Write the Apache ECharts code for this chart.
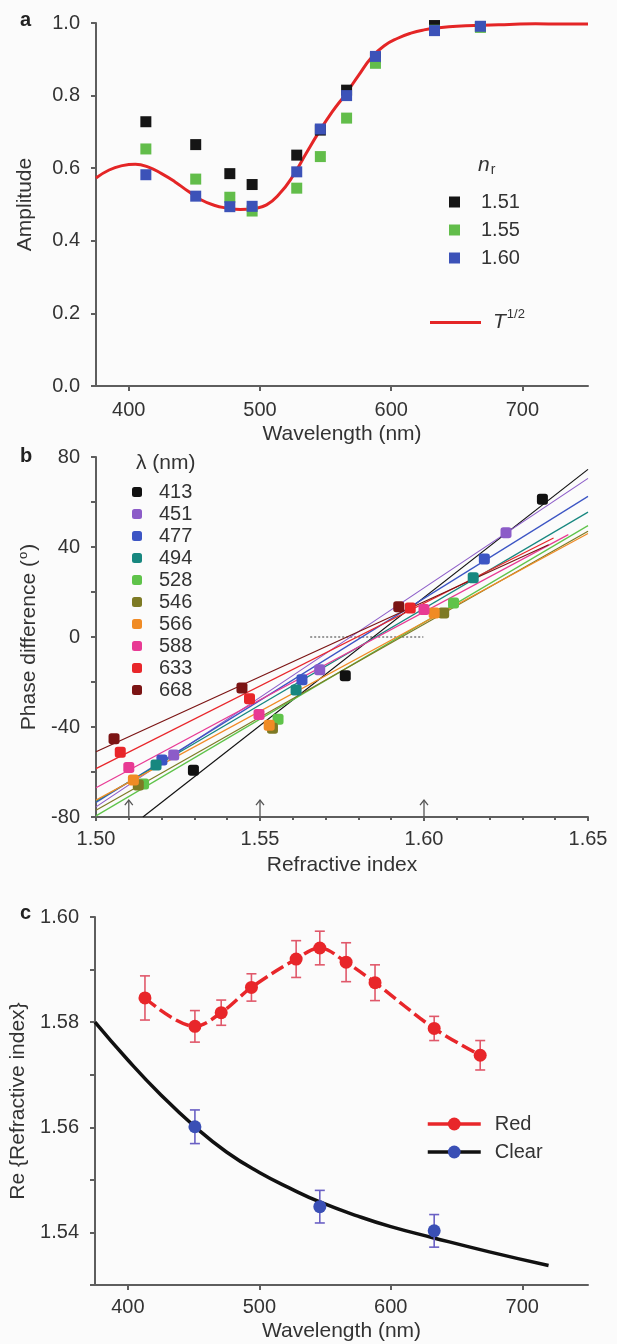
<!DOCTYPE html>
<html><head><meta charset="utf-8">
<script src="https://cdn.jsdelivr.net/npm/echarts@6/dist/echarts.min.js"></script>
<style>html,body{margin:0;padding:0;background:#fbfbfb}#c{width:617px;height:1344px}</style>
</head><body><div id="c"></div>
<script>
// ---------- Panel a : amplitude ----------
const ampWavelength = [413, 451, 477, 494, 528, 546, 566, 588, 633, 668];
const amp151 = [0.728, 0.665, 0.585, 0.555, 0.636, 0.705, 0.815, 0.905, 0.993, 0.990];
const amp155 = [0.653, 0.570, 0.520, 0.482, 0.545, 0.632, 0.738, 0.889, 0.980, 0.988];
const amp160 = [0.582, 0.523, 0.494, 0.495, 0.590, 0.708, 0.800, 0.908, 0.979, 0.991];
const curveWavelength = [375, 385, 395, 405, 415, 425, 435, 445, 455, 465, 475, 485, 495, 505, 515, 525, 535, 545, 555, 565, 575, 585, 595, 605, 615, 625, 635, 650, 670, 690, 710, 730, 750];
const curveAmp = [0.573, 0.595, 0.607, 0.611, 0.603, 0.585, 0.563, 0.537, 0.513, 0.498, 0.490, 0.486, 0.489, 0.499, 0.530, 0.578, 0.640, 0.700, 0.755, 0.803, 0.855, 0.905, 0.938, 0.958, 0.972, 0.981, 0.986, 0.991, 0.994, 0.996, 0.998, 0.997, 0.997];
const wavelengthTicks = [400, 500, 600, 700];

// ---------- Panel b : phase difference ----------
const lambdaNames = ['413', '451', '477', '494', '528', '546', '566', '588', '633', '668'];
const lambdaColors = ['#111111', '#8c5cc8', '#3c55c4', '#17877f', '#5fc34a', '#7d7a24', '#f08b25', '#e83a94', '#e8262a', '#7b1414'];
const phaseNr = [
  [1.5297, 1.5760, 1.6361],
  [1.5237, 1.5682, 1.6250],
  [1.5201, 1.5628, 1.6184],
  [1.5183, 1.5610, 1.6150],
  [1.5145, 1.5555, 1.6090],
  [1.5129, 1.5538, 1.6060],
  [1.5114, 1.5528, 1.6031],
  [1.5100, 1.5497, 1.6000],
  [1.5074, 1.5468, 1.5958],
  [1.5055, 1.5445, 1.5923]
];
const phaseDeg = [
  [-59.2, -17.2, 61.2],
  [-52.4, -14.6, 46.3],
  [-54.7, -19.0, 34.7],
  [-56.9, -23.5, 26.3],
  [-65.3, -36.5, 15.1],
  [-65.8, -40.5, 10.7],
  [-63.6, -39.2, 10.7],
  [-58.0, -34.4, 12.2],
  [-51.2, -27.4, 12.9],
  [-45.2, -22.7, 13.5]
];
const fitStart = [[1.5143, -80], [1.50, -75.5], [1.50, -73.5], [1.50, -73], [1.50, -79.5], [1.50, -77], [1.50, -72.5], [1.50, -67], [1.50, -58.5], [1.50, -51]];
const fitEnd = [[1.65, 74.5], [1.65, 70.5], [1.65, 62.5], [1.65, 55.5], [1.65, 49.5], [1.65, 47], [1.65, 46], [1.644, 45.5], [1.6395, 44], [1.638, 41]];
const zeroRefNr = [1.5653, 1.5998];
const arrowNr = [1.51, 1.55, 1.60];
const arrowFrom = -80, arrowTo = -72.5;

// ---------- Panel c : refractive index ----------
const redWavelength = [413, 451, 471, 494, 528, 546, 566, 588, 633, 668];
const redIndex = [1.5846, 1.5792, 1.5818, 1.5866, 1.5920, 1.5941, 1.5914, 1.5875, 1.5788, 1.5737];
const redErr = [0.0042, 0.0030, 0.0024, 0.0026, 0.0035, 0.0032, 0.0037, 0.0034, 0.0023, 0.0028];
const clearWavelength = [451, 546, 633];
const clearIndex = [1.5601, 1.5449, 1.5403];
const clearErr = [0.0032, 0.0031, 0.0031];
const clearFitWavelength = [375, 400, 425, 451, 475, 500, 525, 546, 575, 600, 632, 675, 720];
const clearFitIndex = [1.5800, 1.5728, 1.5662, 1.5601, 1.5553, 1.5514, 1.5482, 1.5458, 1.5431, 1.5411, 1.5390, 1.5363, 1.5337];
const indexTicks = [1.53, 1.54, 1.55, 1.56, 1.57, 1.58, 1.59, 1.60];
const indexLabels = [1.54, 1.56, 1.58, 1.60];

// ---------- styles ----------
const FONT = 'Liberation Sans, Arial, Helvetica, sans-serif';
const TXT = '#333';
const AX = '#5e5e5e';
const axisLine = { show: true, onZero: false, lineStyle: { color: AX, width: 2 } };

function errRender(params, api) {
  const x = api.value(0), y = api.value(1), e = api.value(2);
  const t = api.coord([x, y + e]), b = api.coord([x, y - e]);
  const hw = 5, st = { stroke: api.visual('color'), lineWidth: 1.6 };
  return { type: 'group', children: [
    { type: 'line', shape: { x1: t[0], y1: t[1], x2: b[0], y2: b[1] }, style: st },
    { type: 'line', shape: { x1: t[0] - hw, y1: t[1], x2: t[0] + hw, y2: t[1] }, style: st },
    { type: 'line', shape: { x1: b[0] - hw, y1: b[1], x2: b[0] + hw, y2: b[1] }, style: st }
  ] };
}
function arrowRender(params, api) {
  const x = api.value(0);
  const p0 = api.coord([x, api.value(1)]), p1 = api.coord([x, api.value(2)]);
  const st = { stroke: '#555', lineWidth: 1.3, fill: 'none' };
  return { type: 'group', children: [
    { type: 'line', shape: { x1: p0[0], y1: p0[1], x2: p1[0], y2: p1[1] }, style: st },
    { type: 'polyline', shape: { points: [[p1[0] - 4, p1[1] + 5], [p1[0], p1[1]], [p1[0] + 4, p1[1] + 5]] }, style: st }
  ] };
}

const series = [];
// panel a
series.push({ type: 'line', name: 'T1/2', xAxisIndex: 0, yAxisIndex: 0, smooth: true, symbol: 'none',
  data: curveWavelength.map((w, i) => [w, curveAmp[i]]), lineStyle: { color: '#e42526', width: 3 }, itemStyle: { color: '#e42526' }, z: 2 });
[[amp151, '1.51', '#151515'], [amp155, '1.55', '#62bd4a'], [amp160, '1.60', '#3c52b8']].forEach(([arr, nm, col]) => {
  series.push({ type: 'scatter', name: nm, xAxisIndex: 0, yAxisIndex: 0, symbol: 'rect', symbolSize: 11,
    data: ampWavelength.map((w, i) => [w, arr[i]]), itemStyle: { color: col, opacity: 1 }, z: 3 });
});
// panel b
lambdaNames.forEach((nm, k) => {
  series.push({ type: 'scatter', name: nm, xAxisIndex: 1, yAxisIndex: 1, symbol: 'roundRect', symbolSize: 11,
    data: phaseNr[k].map((x, i) => [x, phaseDeg[k][i]]), itemStyle: { color: lambdaColors[k], opacity: 1 }, z: 4 });
});
lambdaNames.forEach((nm, k) => {
  series.push({ type: 'line', name: nm, xAxisIndex: 1, yAxisIndex: 1, symbol: 'none',
    data: [fitStart[k], fitEnd[k]], lineStyle: { color: lambdaColors[k], width: 1.2 }, itemStyle: { color: lambdaColors[k] }, z: 3 });
});
series.push({ type: 'line', name: 'zeroRef', xAxisIndex: 1, yAxisIndex: 1, symbol: 'none',
  data: zeroRefNr.map(x => [x, 0]), lineStyle: { color: '#9a9a9a', width: 2, type: [2, 2] }, z: 2 });
series.push({ type: 'custom', name: 'arrows', xAxisIndex: 1, yAxisIndex: 1, renderItem: arrowRender,
  data: arrowNr.map(x => [x, arrowFrom, arrowTo]), encode: { x: 0, y: [1, 2] }, z: 5 });
// panel c
series.push({ type: 'custom', name: 'redErr', xAxisIndex: 2, yAxisIndex: 2, renderItem: errRender,
  itemStyle: { color: '#e0586a' }, data: redWavelength.map((w, i) => [w, redIndex[i], redErr[i]]), encode: { x: 0, y: 1 }, z: 3 });
series.push({ type: 'line', name: 'Red', xAxisIndex: 2, yAxisIndex: 2, smooth: 0.35, symbol: 'circle', symbolSize: 13,
  data: redWavelength.map((w, i) => [w, redIndex[i]]), lineStyle: { color: '#e8262a', width: 3.5, type: [14, 5] }, itemStyle: { color: '#e8262a' }, z: 4 });
series.push({ type: 'line', name: 'Clear', xAxisIndex: 2, yAxisIndex: 2, smooth: true, symbol: 'circle', showSymbol: false, symbolSize: 13,
  data: clearFitWavelength.map((w, i) => [w, clearFitIndex[i]]), lineStyle: { color: '#111', width: 3.5 }, itemStyle: { color: '#3a4fb5' }, z: 2 });
series.push({ type: 'custom', name: 'clearErr', xAxisIndex: 2, yAxisIndex: 2, renderItem: errRender,
  itemStyle: { color: '#6a60c4' }, data: clearWavelength.map((w, i) => [w, clearIndex[i], clearErr[i]]), encode: { x: 0, y: 1 }, z: 3 });
series.push({ type: 'scatter', name: 'clearPts', xAxisIndex: 2, yAxisIndex: 2, symbol: 'circle', symbolSize: 13,
  data: clearWavelength.map((w, i) => [w, clearIndex[i]]), itemStyle: { color: '#3a4fb5', opacity: 1 }, z: 5 });

const lbl = { color: TXT, fontSize: 20, fontFamily: FONT };
const nameStyle = { color: TXT, fontSize: 21, fontFamily: FONT };
const legendText = { color: TXT, fontSize: 20, fontFamily: FONT, lineHeight: 20 };

const option = {
  animation: false,
  backgroundColor: '#fbfbfb',
  textStyle: { fontFamily: FONT },
  grid: [
    { left: 96, right: 29, top: 23, height: 363 },
    { left: 96, right: 29, top: 457, height: 360 },
    { left: 95, right: 29, top: 917, height: 368 }
  ],
  xAxis: [
    { type: 'value', gridIndex: 0, min: 375, max: 750, axisLine, splitLine: { show: false },
      axisTick: { customValues: wavelengthTicks, length: 5, lineStyle: { color: AX, width: 2 } },
      axisLabel: { customValues: wavelengthTicks, margin: 14, ...lbl },
      name: 'Wavelength (nm)', nameLocation: 'middle', nameGap: 38, nameTextStyle: nameStyle },
    { type: 'value', gridIndex: 1, min: 1.5, max: 1.65, interval: 0.05, axisLine, splitLine: { show: false },
      axisTick: { length: 4, lineStyle: { color: AX, width: 2 } },
      minorTick: { show: true, splitNumber: 5, length: 3, lineStyle: { color: AX, width: 2 } },
      axisLabel: { margin: 12, formatter: v => v.toFixed(2), ...lbl },
      name: 'Refractive index', nameLocation: 'middle', nameGap: 38, nameTextStyle: nameStyle },
    { type: 'value', gridIndex: 2, min: 375, max: 750, axisLine, splitLine: { show: false },
      axisTick: { customValues: wavelengthTicks, length: 5, lineStyle: { color: AX, width: 2 } },
      axisLabel: { customValues: wavelengthTicks, margin: 12, ...lbl },
      name: 'Wavelength (nm)', nameLocation: 'middle', nameGap: 36, nameTextStyle: nameStyle }
  ],
  yAxis: [
    { type: 'value', gridIndex: 0, min: 0, max: 1, interval: 0.2, axisLine, splitLine: { show: false },
      axisTick: { length: 5, lineStyle: { color: AX, width: 2 } },
      axisLabel: { margin: 16, formatter: v => v.toFixed(1), ...lbl },
      name: 'Amplitude', nameLocation: 'middle', nameGap: 60, nameTextStyle: nameStyle },
    { type: 'value', gridIndex: 1, min: -80, max: 80, interval: 40, axisLine, splitLine: { show: false },
      axisTick: { length: 5, lineStyle: { color: AX, width: 2 } },
      minorTick: { show: true, splitNumber: 2, length: 5, lineStyle: { color: AX, width: 2 } },
      axisLabel: { margin: 16, ...lbl },
      name: '{t|Phase difference (}{s|o}{t|)}', nameLocation: 'middle', nameGap: 54,
      nameTextStyle: { ...nameStyle, rich: { t: { fontSize: 21, color: TXT, fontFamily: FONT }, s: { fontSize: 13, color: TXT, fontFamily: FONT, padding: [0, 1, 12, 1] } } } },
    { type: 'value', gridIndex: 2, min: 1.53, max: 1.60, axisLine, splitLine: { show: false },
      axisTick: { customValues: indexTicks, length: 5, lineStyle: { color: AX, width: 2 } },
      axisLabel: { customValues: indexLabels, margin: 16, formatter: v => v.toFixed(2), ...lbl },
      name: 'Re {Refractive index}', nameLocation: 'middle', nameGap: 59, nameTextStyle: nameStyle }
  ],
  legend: [
    { data: ['1.51', '1.55', '1.60'], orient: 'vertical', left: 444, top: 187, itemWidth: 11, itemHeight: 11, itemGap: 8,
      itemStyle: { opacity: 1 },
      textStyle: { ...legendText, padding: [0, 0, 0, 16] } },
    { data: [{ name: 'T1/2', icon: 'rect' }], orient: 'vertical', left: 425, top: 303, itemWidth: 51, itemHeight: 3,
      formatter: () => '{i|T}{s|1/2}',
      textStyle: { ...legendText, padding: [0, 0, 0, 7], rich: { i: { fontSize: 21, fontStyle: 'italic', color: TXT, fontFamily: FONT }, s: { fontSize: 13, color: TXT, fontFamily: FONT, padding: [0, 0, 16, 1] } } } },
    { data: lambdaNames, orient: 'vertical', left: 127, top: 477, itemWidth: 10, itemHeight: 10, itemGap: 2,
      itemStyle: { opacity: 1 },
      textStyle: { ...legendText, padding: [0, 0, 0, 12] } },
    { data: ['Red', 'Clear'], orient: 'vertical', left: 421, top: 1109, itemWidth: 53, itemHeight: 16, itemGap: 8,
      lineStyle: { type: 'solid', width: 3.5 },
      textStyle: { ...legendText, padding: [0, 0, 0, 9] } }
  ],
  graphic: [
    { type: 'text', x: 20, y: 20, style: { text: 'a', fill: '#222', font: 'bold 20px ' + FONT, verticalAlign: 'middle' } },
    { type: 'text', x: 20, y: 456, style: { text: 'b', fill: '#222', font: 'bold 20px ' + FONT, verticalAlign: 'middle' } },
    { type: 'text', x: 20, y: 913, style: { text: 'c', fill: '#222', font: 'bold 20px ' + FONT, verticalAlign: 'middle' } },
    { type: 'text', x: 478, y: 165, style: { text: '{n|n}{r|r}', verticalAlign: 'middle', fill: TXT,
      rich: { n: { fontSize: 21, fontStyle: 'italic', fontFamily: FONT, fill: TXT }, r: { fontSize: 14, fontFamily: FONT, fill: TXT, padding: [10, 0, 0, 1] } } } },
    { type: 'text', x: 136, y: 463, style: { text: 'λ (nm)', fill: TXT, font: '21px ' + FONT, verticalAlign: 'middle' } }
  ],
  series
};
const chart = echarts.init(document.getElementById('c'), null, { renderer: 'canvas' });
chart.setOption(option);
</script></body></html>
